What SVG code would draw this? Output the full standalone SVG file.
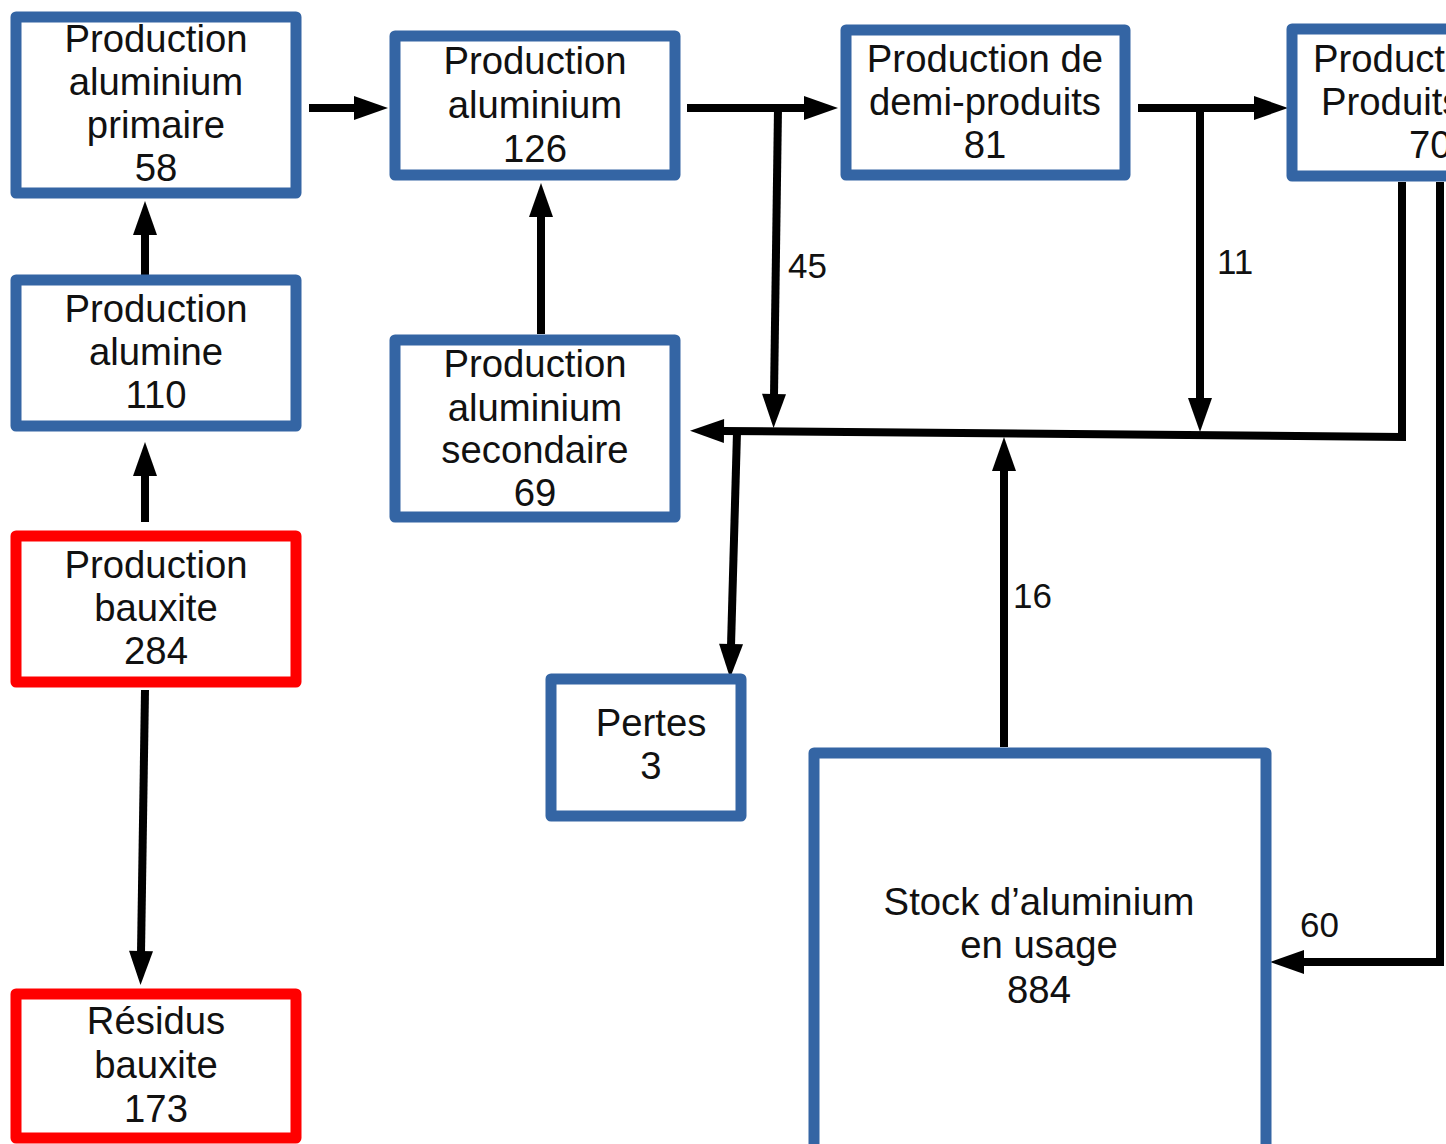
<svg xmlns="http://www.w3.org/2000/svg" width="1446" height="1144" viewBox="0 0 1446 1144">
<style>
.box{fill:#fff;stroke:#3465a4;stroke-width:11;stroke-linejoin:round}
.red{fill:#fff;stroke:#ff0000;stroke-width:11;stroke-linejoin:round}
.t{font-family:"Liberation Sans",Arial,sans-serif;font-size:38.3px;fill:#111;text-anchor:middle}
.lbl{font-family:"Liberation Sans",Arial,sans-serif;font-size:35px;fill:#111}
.c{fill:none;stroke:#000;stroke-width:8;stroke-linejoin:miter}
</style>
<defs>
<marker id="ah" markerUnits="userSpaceOnUse" markerWidth="36" markerHeight="26" refX="2" refY="12" orient="auto" overflow="visible">
<path d="M0,0 L34,12 L0,24 z" fill="#000"/>
</marker>
</defs>
<rect width="1446" height="1144" fill="#fff"/>
<g id="connectors">
<path class="c" d="M309,108 H356" marker-end="url(#ah)"/>
<path class="c" d="M687,108 H806" marker-end="url(#ah)"/>
<path class="c" d="M778,108 L774,396" marker-end="url(#ah)"/>
<path class="c" d="M1138,108 H1256" marker-end="url(#ah)"/>
<path class="c" d="M1200,108 V400" marker-end="url(#ah)"/>
<path class="c" d="M1402,182 V437 L722,431" marker-end="url(#ah)"/>
<path class="c" d="M1004,747 V469" marker-end="url(#ah)"/>
<path class="c" d="M737,432 L731,646" marker-end="url(#ah)"/>
<path class="c" d="M1440,182 V962 H1302" marker-end="url(#ah)"/>
<path class="c" d="M541,334 V215" marker-end="url(#ah)"/>
<path class="c" d="M145,278 V233" marker-end="url(#ah)"/>
<path class="c" d="M145,522 V474" marker-end="url(#ah)"/>
<path class="c" d="M145,690 L141,953" marker-end="url(#ah)"/>
<text class="lbl" x="788" y="278">45</text>
<text class="lbl" x="1217" y="274">11</text>
<text class="lbl" x="1013" y="608">16</text>
<text class="lbl" x="1300" y="937">60</text>
</g>
<g id="n-primaire">
<rect class="box" x="16" y="17" width="280" height="176"/>
<text class="t" x="156" y="52">Production</text>
<text class="t" x="156" y="95">aluminium</text>
<text class="t" x="156" y="138">primaire</text>
<text class="t" x="156" y="181">58</text>
</g>
<g id="n-alumine">
<rect class="box" x="16" y="280" width="280" height="146"/>
<text class="t" x="156" y="322">Production</text>
<text class="t" x="156" y="365">alumine</text>
<text class="t" x="156" y="408">110</text>
</g>
<g id="n-bauxite">
<rect class="red" x="16" y="536" width="280" height="146"/>
<text class="t" x="156" y="578">Production</text>
<text class="t" x="156" y="621">bauxite</text>
<text class="t" x="156" y="664">284</text>
</g>
<g id="n-residus">
<rect class="red" x="16" y="994" width="280" height="144"/>
<text class="t" x="156" y="1034">Résidus</text>
<text class="t" x="156" y="1078">bauxite</text>
<text class="t" x="156" y="1122">173</text>
</g>
<g id="n-aluminium">
<rect class="box" x="395" y="36" width="280" height="139"/>
<text class="t" x="535" y="74">Production</text>
<text class="t" x="535" y="118">aluminium</text>
<text class="t" x="535" y="162">126</text>
</g>
<g id="n-secondaire">
<rect class="box" x="395" y="340" width="280" height="177"/>
<text class="t" x="535" y="377">Production</text>
<text class="t" x="535" y="421">aluminium</text>
<text class="t" x="535" y="463">secondaire</text>
<text class="t" x="535" y="506">69</text>
</g>
<g id="n-demi">
<rect class="box" x="846" y="30" width="279" height="145"/>
<text class="t" x="985" y="72">Production de</text>
<text class="t" x="985" y="115">demi-produits</text>
<text class="t" x="985" y="158">81</text>
</g>
<g id="n-finis">
<rect class="box" x="1292" y="29" width="200" height="147"/>
<text class="t" x="1313" y="72" style="text-anchor:start">Product</text>
<text class="t" x="1321" y="115" style="text-anchor:start">Produits</text>
<text class="t" x="1409" y="158" style="text-anchor:start">70</text>
</g>
<g id="n-pertes">
<rect class="box" x="551" y="679" width="190" height="137"/>
<text class="t" x="651" y="736">Pertes</text>
<text class="t" x="651" y="779">3</text>
</g>
<g id="n-stock">
<rect class="box" x="814" y="753" width="452" height="400"/>
<text class="t" x="1039" y="915">Stock d’aluminium</text>
<text class="t" x="1039" y="958">en usage</text>
<text class="t" x="1039" y="1003">884</text>
</g>
</svg>
